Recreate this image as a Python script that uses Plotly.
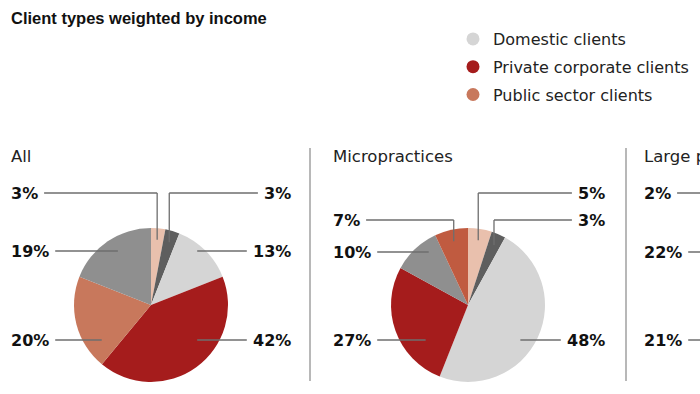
import math
import plotly.graph_objects as go

# ---------------- data ----------------
chart_title = "Client types weighted by income"
panel_titles = ["All", "Micropractices", "Large practices"]
legend_labels = ["Domestic clients", "Private corporate clients", "Public sector clients"]

all_labels = ["Other clients (a)", "Other clients (b)", "Domestic clients",
              "Private corporate clients", "Public sector clients", "Other clients (c)"]
all_values = [3, 3, 13, 42, 20, 19]

micro_labels = ["Other clients (a)", "Other clients (b)", "Domestic clients",
                "Private corporate clients", "Other clients (c)", "Public sector clients"]
micro_values = [5, 3, 48, 27, 10, 7]

large_visible_values = [2, 22, 21]   # only these labels are visible (panel cut off)

# ---------------- style ----------------
W, H = 700, 394
PEACH, DGRAY, LGRAY, RED, SALMON, MGRAY, SALMON2 = (
    "#e9c0ad", "#5e5e5e", "#d5d5d5", "#a51c1c", "#c8785c", "#8f8f8f", "#c05b40")
legend_colors = [LGRAY, RED, SALMON]
all_colors = [PEACH, DGRAY, LGRAY, RED, SALMON, MGRAY]
micro_colors = [PEACH, DGRAY, LGRAY, RED, MGRAY, SALMON2]

# leader styling per slice: (side, row y px, mode, radius fraction)
all_leaders = [("L", 193, "v", 0.85), ("R", 193, "v", 0.85), ("R", 251, "h", 0.60),
               ("R", 340, "h", 0.60), ("L", 340, "h", 0.64), ("L", 251, "h", 0.43)]
micro_leaders = [("R", 193, "v", 0.85), ("R", 220, "v", 0.85), ("R", 340, "h", 0.68),
                 ("L", 340, "h", 0.55), ("L", 252, "h", 0.51), ("L", 220, "v", 0.85)]
large_rows = [193, 252, 340]

pie_cx = [151, 468]
pie_cy = 305
pie_r = 77
label_left_x = [9, 331, 642]
label_right_x = [293, 607]
title_x = [9, 331, 642]
dividers_x = [310, 626]

FONT = "DejaVu Sans"
LINE_COLOR = "#6e6e6e"


def px(x):
    return x / W


def py(y):
    return 1 - y / H


def text_w(s):
    return sum(11.1 if c.isdigit() else 16.0 for c in s)


def ann(x, y, text, xanchor, size, color, family=FONT):
    return dict(x=px(x), y=py(y), xref="paper", yref="paper", text=text,
                xanchor=xanchor, yanchor="middle", showarrow=False,
                font=dict(family=family, size=size, color=color))


fig = go.Figure()
shapes = []
annotations = []

panels = [(all_labels, all_values, all_colors, all_leaders),
          (micro_labels, micro_values, micro_colors, micro_leaders)]

for i, (labs, vals, cols, leaders) in enumerate(panels):
    cx = pie_cx[i]
    fig.add_trace(go.Pie(
        labels=labs, values=vals, sort=False, direction="clockwise", rotation=0,
        marker=dict(colors=cols, line=dict(width=0)), textinfo="none",
        hovertemplate="%{label}: %{value}%<extra></extra>",
        showlegend=False,
        domain=dict(x=[px(cx - pie_r), px(cx + pie_r)],
                    y=[py(pie_cy + pie_r), py(pie_cy - pie_r)]),
    ))
    total = sum(vals)
    cum = 0
    for v, (side, row, mode, frac) in zip(vals, leaders):
        theta = math.radians(360 * (cum + v / 2) / total)
        cum += v
        txt = f"{v}%"
        if side == "L":
            lx = label_left_x[i]
            outer = lx + text_w(txt) + 8
            annotations.append(ann(lx, row, f"<b>{txt}</b>", "left", 16, "#111"))
        else:
            rx = label_right_x[i]
            outer = rx - text_w(txt) - 8
            annotations.append(ann(rx, row, f"<b>{txt}</b>", "right", 16, "#111"))
        if mode == "v":
            ax = cx + frac * pie_r * math.sin(theta)
            ay = pie_cy - frac * pie_r * math.cos(theta)
            shapes.append(dict(type="line", xref="paper", yref="paper",
                               x0=px(ax), y0=py(ay), x1=px(ax), y1=py(row),
                               line=dict(color=LINE_COLOR, width=1.3)))
        else:
            ax = cx + (frac * pie_r if side == "R" else -frac * pie_r)
        shapes.append(dict(type="line", xref="paper", yref="paper",
                           x0=px(ax), y0=py(row), x1=px(outer), y1=py(row),
                           line=dict(color=LINE_COLOR, width=1.3)))

# third (cut-off) panel labels
for v, row in zip(large_visible_values, large_rows):
    txt = f"{v}%"
    lx = label_left_x[2]
    annotations.append(ann(lx, row, f"<b>{txt}</b>", "left", 16, "#111"))
    shapes.append(dict(type="line", xref="paper", yref="paper",
                       x0=px(lx + text_w(txt) + 8), y0=py(row), x1=px(730), y1=py(row),
                       line=dict(color=LINE_COLOR, width=1.3)))

# panel titles
for t, tx in zip(panel_titles, title_x):
    annotations.append(ann(tx, 156, t, "left", 16.5, "#222"))

# dividers
for dx in dividers_x:
    shapes.append(dict(type="line", xref="paper", yref="paper",
                       x0=px(dx), y0=py(148), x1=px(dx), y1=py(381),
                       line=dict(color="#a0a0a0", width=1.5), layer="below"))

# main title
annotations.append(ann(9, 18, f"<b>{chart_title}</b>", "left", 16.5, "#111",
                       family="Liberation Sans"))

# legend entries
for name, col in zip(legend_labels, legend_colors):
    fig.add_trace(go.Scatter(x=[None], y=[None], mode="markers", name=name,
                             legendgroup=name,
                             marker=dict(size=13, color=col, symbol="circle")))

fig.update_layout(
    width=W, height=H, margin=dict(l=0, r=0, t=0, b=0),
    paper_bgcolor="white", plot_bgcolor="white",
    xaxis=dict(visible=False), yaxis=dict(visible=False),
    shapes=shapes, annotations=annotations,
    showlegend=True,
    legend=dict(x=px(453), y=py(22), xanchor="left", yanchor="top",
                tracegroupgap=4, bgcolor="rgba(0,0,0,0)",
                font=dict(family=FONT, size=16, color="#222")),
)

fig.write_html("out.html", config={"displayModeBar": False},
               post_script="document.body.style.margin='0';")
